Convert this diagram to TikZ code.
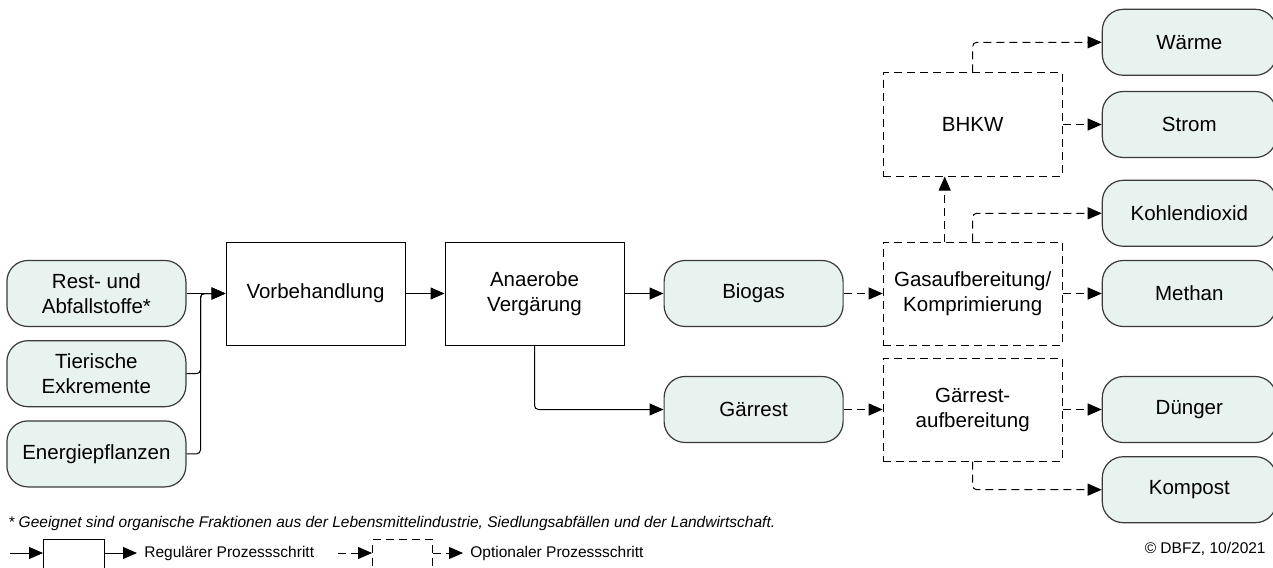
\documentclass[tikz,border=0pt]{standalone}
\usepackage{fontspec}
\setmainfont{Liberation Sans}
\usepackage{xcolor}
\usepackage{tikz}
\usetikzlibrary{arrows.meta,positioning}

\definecolor{prodfill}{HTML}{E8F2EE}
\definecolor{prodline}{HTML}{3A3A3A}

\begin{document}
\begin{tikzpicture}[
    x=0.5pt, y=-0.5pt,
    node distance=19.5pt,
    font=\fontsize{10.25}{12.5}\selectfont,
    product/.style={rectangle, draw=prodline, fill=prodfill, line width=0.6pt, minimum width=89.5pt, minimum height=33pt, align=center, rounded corners=10.5pt},
    outcome/.style={product, minimum width=87pt},
    stepbox/.style={rectangle, draw=black, line width=0.5pt, minimum width=89.5pt, minimum height=51.5pt, align=center},
    optbox/.style={stepbox, dash pattern=on 4pt off 2.5pt},
    arrow/.style={-{Triangle[length=7pt,width=6pt]}, line width=0.5pt, rounded corners=2pt},
    optarrow/.style={arrow, dash pattern=on 4pt off 2.5pt},
    legtext/.style={font=\fontsize{7.75}{9}\selectfont, inner sep=3.5pt}
]
    \useasboundingbox (0,0) rectangle (1273,567);

    % Process chain
    \node[stepbox] (vor) at (315.5,293.5) {Vorbehandlung};
    \node[stepbox, right=of vor] (ana) {Anaerobe\\Vergärung};
    \node[product, right=of ana] (biogas) {Biogas};
    \node[optbox, right=of biogas] (gasauf) {Gasaufbereitung/\\Komprimierung};
    \node[optbox, above=32.5pt of gasauf] (bhkw) {BHKW};
    \node[optbox, below=6pt of gasauf] (gaerauf) {Gärrest-\\aufbereitung};
    \node[product] (gaerrest) at (biogas |- gaerauf) {Gärrest};

    % Inputs
    \node[product, left=of vor] (rest) {Rest- und\\Abfallstoffe*};
    \node[product, below=6.5pt of rest] (tier) {Tierische\\Exkremente};
    \node[product, below=6.5pt of tier] (energ) {Energiepflanzen};
    \coordinate (join) at ([xshift=7pt]rest.east);

    % Outputs
    \node[outcome, right=of gasauf] (methan) {Methan};
    \node[outcome, above=6.5pt of methan] (kohlen) {Kohlendioxid};
    \node[outcome, right=of bhkw] (strom) {Strom};
    \node[outcome, above=7.5pt of strom] (waerme) {Wärme};
    \node[outcome, right=of gaerauf] (duenger) {Dünger};
    \node[outcome, below=6.5pt of duenger] (kompost) {Kompost};

    % Arrows
    \draw[arrow] (rest) -- (vor);
    \draw[arrow] (tier.east) -| (join) -- (vor.west);
    \draw[arrow] (energ.east) -| (join) -- (vor.west);
    \draw[arrow] (vor) -- (ana);
    \draw[arrow] (ana) -- (biogas);
    \draw[arrow] (ana.south) |- (gaerrest.west);
    \draw[optarrow] (biogas) -- (gasauf);
    \draw[optarrow] (gaerrest) -- (gaerauf);
    \draw[optarrow] ([xshift=-14pt]gasauf.north) -- ([xshift=-14pt]bhkw.south);
    \draw[optarrow] (gasauf.north) |- (kohlen.west);
    \draw[optarrow] (gasauf) -- (methan);
    \draw[optarrow] (bhkw.north) |- (waerme.west);
    \draw[optarrow] (bhkw.east) -- (strom.west);
    \draw[optarrow] (gaerauf) -- (duenger);
    \draw[optarrow] (gaerauf.south) |- (kompost.west);

    % Footnote and legend
    \node[legtext, anchor=west, inner sep=2pt] (note) at (4,523) {\itshape * Geeignet sind organische Fraktionen aus der Lebensmittelindustrie, Siedlungsabfällen und der Landwirtschaft.};
    \coordinate (legin) at (10,553);
    \node[stepbox, anchor=north west, minimum width=30.5pt, minimum height=22pt] (legstep) at (43,539) {};
    \node[legtext, anchor=west] (legreg) at (137,553) {Regulärer Prozessschritt};
    \coordinate (legoptin) at (338,553);
    \node[optbox, anchor=north west, minimum width=30pt, minimum height=22pt] (legopt) at (372,539) {};
    \node[legtext, anchor=west] (legoptt) at (463,553) {Optionaler Prozessschritt};
    \draw[arrow] (legin) -- (legin -| legstep.west);
    \draw[arrow] (legstep.east |- legin) -- (legreg.west);
    \draw[optarrow] (legoptin) -- (legoptin -| legopt.west);
    \draw[optarrow] (legopt.east |- legoptin) -- (legoptt.west);
    \node[legtext, anchor=east, inner sep=2pt] (copy) at (1270,549) {© DBFZ, 10/2021};
\end{tikzpicture}
\end{document}
